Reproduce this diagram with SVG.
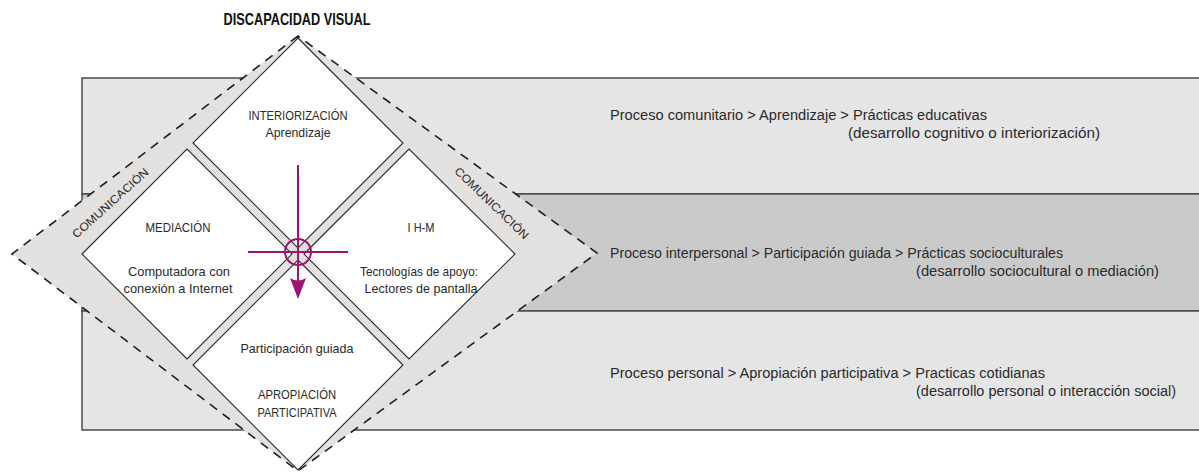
<svg xmlns="http://www.w3.org/2000/svg" width="1199" height="472" viewBox="0 0 1199 472">
  <style>
    .band { stroke: #4a4a4a; stroke-width: 1.5; }
    .light { fill: #e5e5e5; }
    .dark { fill: #cacaca; }
    .cell { fill: #ffffff; stroke: #2b2b2b; stroke-width: 1.1; }
    .outer { fill: #e3e0e0; stroke: #1f1f1f; stroke-width: 1.6; stroke-dasharray: 9 7; }
    .t { font-family: "Liberation Sans", Arial, sans-serif; font-size: 13.5px; fill: #2a2a2a; }
    .c { text-anchor: middle; }
    .r { font-family: "Liberation Sans", Arial, sans-serif; font-size: 14px; fill: #2a2a2a; }
    .com { font-family: "Liberation Sans", Arial, sans-serif; font-size: 11.5px; fill: #2a2a2a; text-anchor: middle; }
    .mag { stroke: #9e1470; stroke-width: 2; fill: none; }
  </style>

  <g id="bands">
    <rect class="band light" x="82" y="78" width="1125" height="116"/>
    <rect class="band dark" x="82" y="194" width="1125" height="117"/>
    <rect class="band light" x="82" y="311" width="1125" height="119"/>
  </g>

  <g id="band-texts">
    <text class="r" x="610" y="120" textLength="377" lengthAdjust="spacingAndGlyphs">Proceso comunitario &gt; Aprendizaje  &gt; Prácticas educativas</text>
    <text class="r" x="848" y="138" textLength="252" lengthAdjust="spacingAndGlyphs">(desarrollo cognitivo o interiorización)</text>
    <text class="r" x="610" y="258" textLength="453" lengthAdjust="spacingAndGlyphs">Proceso interpersonal &gt; Participación guiada &gt; Prácticas socioculturales</text>
    <text class="r" x="916" y="276" textLength="243" lengthAdjust="spacingAndGlyphs">(desarrollo sociocultural o mediación)</text>
    <text class="r" x="610" y="378" textLength="435" lengthAdjust="spacingAndGlyphs">Proceso personal &gt; Apropiación participativa &gt; Practicas cotidianas</text>
    <text class="r" x="916" y="396" textLength="260" lengthAdjust="spacingAndGlyphs">(desarrollo personal o interacción social)</text>
  </g>

  <g id="comunicacion">
    <polygon class="outer" points="298,36 12,254 298,471 597,253"/>
    <text class="com" transform="translate(113,206) rotate(-42)" textLength="98" lengthAdjust="spacingAndGlyphs">COMUNICACIÓN</text>
    <text class="com" transform="translate(489,206) rotate(44)" textLength="98" lengthAdjust="spacingAndGlyphs">COMUNICACIÓN</text>
  </g>

  <text id="title" x="297" y="25" text-anchor="middle" font-family="Liberation Sans, Arial, sans-serif" font-weight="bold" font-size="17" fill="#111" textLength="147" lengthAdjust="spacingAndGlyphs">DISCAPACIDAD VISUAL</text>

  <g id="interiorizacion">
    <polygon class="cell" points="298,38 403,143 298,248 193,143"/>
    <text class="t c" x="298" y="120" textLength="99" lengthAdjust="spacingAndGlyphs">INTERIORIZACIÓN</text>
    <text class="t c" x="298" y="137" textLength="65" lengthAdjust="spacingAndGlyphs">Aprendizaje</text>
  </g>

  <g id="mediacion">
    <polygon class="cell" points="82,254 187,149 292,254 187,359"/>
    <text class="t c" x="178" y="232" textLength="65" lengthAdjust="spacingAndGlyphs">MEDIACIÓN</text>
    <text class="t c" x="179" y="276" textLength="102" lengthAdjust="spacingAndGlyphs">Computadora con</text>
    <text class="t c" x="178" y="293" textLength="109" lengthAdjust="spacingAndGlyphs">conexión a Internet</text>
  </g>

  <g id="ihm">
    <polygon class="cell" points="304,254 409,149 515,254 409,359"/>
    <text class="t c" x="421" y="232" textLength="27" lengthAdjust="spacingAndGlyphs">I H-M</text>
    <text class="t c" x="419" y="276" textLength="118" lengthAdjust="spacingAndGlyphs">Tecnologías de apoyo:</text>
    <text class="t c" x="421" y="293" textLength="113" lengthAdjust="spacingAndGlyphs">Lectores de pantalla</text>
  </g>

  <g id="apropiacion">
    <polygon class="cell" points="298,260 403,365 298,470 193,365"/>
    <text class="t c" x="297" y="353" textLength="113" lengthAdjust="spacingAndGlyphs">Participación guiada</text>
    <text class="t c" x="297" y="399" textLength="78" lengthAdjust="spacingAndGlyphs">APROPIACIÓN</text>
    <text class="t c" x="297" y="417" textLength="79" lengthAdjust="spacingAndGlyphs">PARTICIPATIVA</text>
  </g>

  <g id="connectors">
    <line class="mag" x1="248" y1="252" x2="348" y2="252"/>
    <line class="mag" x1="298" y1="165" x2="298" y2="284"/>
    <circle class="mag" cx="298" cy="252" r="13" stroke-width="2.5"/>
    <path d="M290,278 Q298,283 306,278 L298,299 Z" fill="#9e1470"/>
  </g>
</svg>
